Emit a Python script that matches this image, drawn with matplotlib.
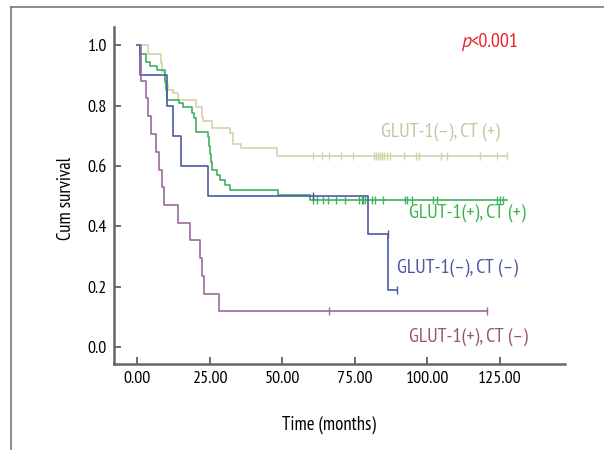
import numpy as np
import matplotlib
matplotlib.use("Agg")
import matplotlib.pyplot as plt
from matplotlib.lines import Line2D

# ---------------- data ----------------
# GLUT-1(-), CT(+)
khaki_t = [0, 3.9, 8.3, 8.8, 9.8, 10.8, 12.5, 14.2, 20.5, 22.3, 22.8, 25.7, 32.0, 33.2, 36.0, 48.1]
khaki_s = [1.0, 0.97, 0.94, 0.91, 0.87, 0.853, 0.84, 0.818, 0.796, 0.763, 0.75, 0.724, 0.708, 0.674, 0.658, 0.632]
khaki_end = 127.5
khaki_cens = [60.7, 63.6, 66.2, 70.1, 74.5, 81.6, 82.3, 83.0, 83.7, 84.4, 85.1, 86.2, 87.1,
              91.9, 96.1, 97.2, 104.6, 106.6, 118.1, 124.1, 127.5]

# GLUT-1(+), CT(+)
green_t = [0, 1.0, 3.0, 4.5, 7.0, 9.5, 10.0, 10.5, 14.5, 16.0, 18.8, 19.6, 20.2, 20.5, 24.3, 24.8,
           25.1, 25.4, 26.0, 27.5, 28.6, 30.3, 32.0, 48.7, 59.6]
green_s = [1.0, 0.972, 0.945, 0.93, 0.918, 0.88, 0.85, 0.818, 0.809, 0.796, 0.774, 0.757, 0.735, 0.713,
           0.696, 0.665, 0.64, 0.614, 0.586, 0.57, 0.553, 0.536, 0.52, 0.503, 0.487]
green_end = 127.3
green_cens = [60.5, 61.9, 64.2, 65.9, 68.5, 71.6, 76.6, 77.4, 77.9, 78.7, 80.8, 82.0, 84.8,
              92.3, 92.9, 94.6, 102.0, 103.2, 123.9, 125.0, 126.1]

# GLUT-1(-), CT(-)
blue_t = [0, 1.0, 10.2, 12.5, 15.0, 24.6, 79.4, 86.5]
blue_s = [1.0, 0.9, 0.8, 0.7, 0.6, 0.5, 0.375, 0.1875]
blue_end = 89.4
blue_cens = [60.5, 86.3, 89.4]

# GLUT-1(+), CT(-)
purple_t = [0, 1.3, 3.1, 3.9, 5.0, 6.5, 7.7, 8.5, 9.4, 14.2, 18.3, 21.7, 22.3, 23.1, 28.2]
purple_s = [1.0, 0.882, 0.824, 0.765, 0.706, 0.647, 0.588, 0.529, 0.471, 0.412, 0.353, 0.294,
            0.235, 0.176, 0.118]
purple_end = 120.5
purple_cens = [66.0, 120.5]

labels = ["GLUT-1(–), CT (+)", "GLUT-1(+), CT (+)", "GLUT-1(–), CT (–)", "GLUT-1(+), CT (–)"]
x_ticks = [0, 25, 50, 75, 100, 125]
y_ticks = [0.0, 0.2, 0.4, 0.6, 0.8, 1.0]

# ---------------- plot ----------------
FONT = ["PT Sans Narrow", "Roboto Condensed", "DejaVu Sans"]
plt.rcParams["font.family"] = FONT

fig = plt.figure(figsize=(6.04, 4.5), dpi=100)
ax = fig.add_axes([114 / 604, (450 - 364) / 450, (565 - 114) / 604, (364 - 27) / 450])

line_cols = ["#d2d4a8", "#3fb060", "#4b5aa8", "#9b6a9e"]
text_cols = ["#c6c59e", "#3cb44a", "#4a59a6", "#9a5579"]

groups = [
    (khaki_t, khaki_s, khaki_end, khaki_cens),
    (green_t, green_s, green_end, green_cens),
    (blue_t, blue_s, blue_end, blue_cens),
    (purple_t, purple_s, purple_end, purple_cens),
]

for (t, s, end, cens), col in zip(groups, line_cols):
    tt = list(t) + [end]
    ss = list(s) + [s[-1]]
    ax.step(tt, ss, where="post", color=col, lw=1.2, zorder=3)
    idx = np.searchsorted(np.array(t), np.array(cens), side="right") - 1
    cy = np.array(s)[idx]
    ax.plot(cens, cy, linestyle="none", marker="|", markersize=6, mew=1.0, color=col, zorder=4)

ax.set_xlim(-7.9, 147.4)
ax.set_ylim(-0.056, 1.06)
ax.set_xticks(x_ticks)
ax.set_xticklabels([f"{v:.2f}" for v in x_ticks])
ax.set_yticks(y_ticks)
ax.set_yticklabels([f"{v:.1f}" for v in y_ticks])
ax.tick_params(direction="in", length=5, width=1.2, color="#555555", labelsize=13, pad=5)
for sp in ["top", "right"]:
    ax.spines[sp].set_visible(False)
for sp in ["left", "bottom"]:
    ax.spines[sp].set_color("#666666")
    ax.spines[sp].set_linewidth(1.8)

ax.set_xlabel("Time (months)", fontsize=13.5)
ax.set_ylabel("Cum survival", fontsize=13.5)
ax.xaxis.set_label_coords((329 - 114) / 451, (364 - 425) / 337)
ax.yaxis.set_label_coords((66 - 114) / 451, (364 - 198) / 337)
ax.xaxis.label.set_va("center")
ax.yaxis.label.set_va("center")

# curve labels
lab_pos = [(381, 132), (409, 213), (397, 268), (409, 337)]
for lab, (px, py), col in zip(labels, lab_pos, text_cols):
    fig.text(px / 604, 1 - py / 450, lab, color=col, fontsize=14.5, ha="left", va="center")

fig.text(461 / 604, 1 - 42 / 450, "p", color="#e8262c", fontsize=14.5, style="italic",
         family=["PT Sans", "DejaVu Sans"], ha="left", va="center")
fig.text(470 / 604, 1 - 42 / 450, "<0.001", color="#e8262c", fontsize=14.5,
         ha="left", va="center")

# outer frame lines
fig.add_artist(Line2D([11 / 604, 1.0], [1 - 7 / 450, 1 - 7 / 450], color="#777777", lw=1.2))
fig.add_artist(Line2D([11 / 604, 11 / 604], [0, 1 - 7 / 450], color="#777777", lw=1.2))

fig.savefig("out.png", dpi=100)
